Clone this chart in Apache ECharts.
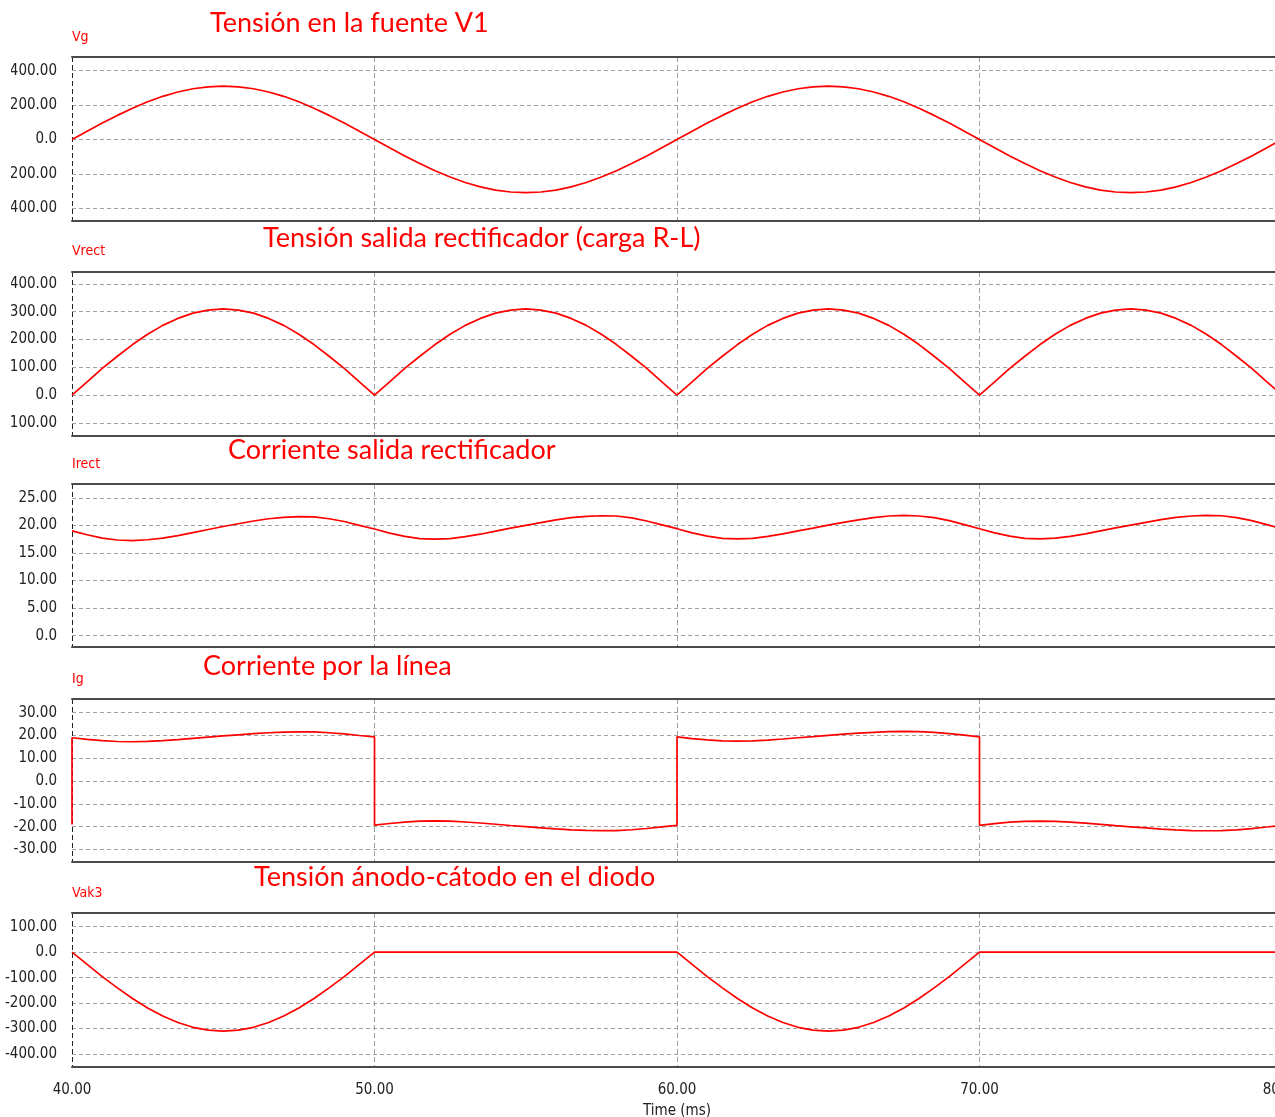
<!DOCTYPE html>
<html>
<head>
<meta charset="utf-8">
<title>Rectificador monofásico en puente</title>
<script src="https://cdn.jsdelivr.net/npm/echarts@6/dist/echarts.min.js"></script>
<style>
  html, body { margin: 0; padding: 0; background: #ffffff; }
  #chart { width: 1275px; height: 1117px; }
</style>
</head>
<body>
<div id="chart"></div>
<script>
// Time base of the simulation window (ms)
const timeMs = [
  40, 40.5, 41, 41.5, 42, 42.5, 43, 43.5, 44, 44.5, 45, 45.5, 46, 46.5, 47, 47.5, 48, 48.5, 49, 49.5,
  50, 50.5, 51, 51.5, 52, 52.5, 53, 53.5, 54, 54.5, 55, 55.5, 56, 56.5, 57, 57.5, 58, 58.5, 59, 59.5,
  60, 60.5, 61, 61.5, 62, 62.5, 63, 63.5, 64, 64.5, 65, 65.5, 66, 66.5, 67, 67.5, 68, 68.5, 69, 69.5,
  70, 70.5, 71, 71.5, 72, 72.5, 73, 73.5, 74, 74.5, 75, 75.5, 76, 76.5, 77, 77.5, 78, 78.5, 79, 79.5,
  80
];

// Source voltage V1 (V)
const vg = [
  0, 48, 96, 140, 182, 219, 251, 276, 295, 306, 310, 306, 295, 276, 251, 219, 182, 140, 96, 48,
  0, -48, -96, -140, -182, -219, -251, -276, -295, -306, -310, -306, -295, -276, -251, -219, -182, -140, -96, -48,
  0, 48, 96, 140, 182, 219, 251, 276, 295, 306, 310, 306, 295, 276, 251, 219, 182, 140, 96, 48,
  0, -48, -96, -140, -182, -219, -251, -276, -295, -306, -310, -306, -295, -276, -251, -219, -182, -140, -96, -48,
  0
];

// Rectifier output voltage (V)
const vrect = [
  0, 48, 96, 140, 182, 219, 251, 276, 295, 306, 310, 306, 295, 276, 251, 219, 182, 140, 96, 48,
  0, 48, 96, 140, 182, 219, 251, 276, 295, 306, 310, 306, 295, 276, 251, 219, 182, 140, 96, 48,
  0, 48, 96, 140, 182, 219, 251, 276, 295, 306, 310, 306, 295, 276, 251, 219, 182, 140, 96, 48,
  0, 48, 96, 140, 182, 219, 251, 276, 295, 306, 310, 306, 295, 276, 251, 219, 182, 140, 96, 48,
  0
];

// Rectifier output current, R-L load (A)
const irect = [
  19.0, 18.3, 17.7, 17.35, 17.25, 17.4, 17.7, 18.15, 18.7, 19.25, 19.8, 20.3, 20.8, 21.2, 21.45, 21.6, 21.55, 21.2, 20.7, 20.0,
  19.35, 18.6, 18.0, 17.6, 17.5, 17.6, 17.95, 18.4, 18.95, 19.5, 20.0, 20.5, 21.0, 21.4, 21.65, 21.75, 21.7, 21.35, 20.8, 20.1,
  19.4, 18.65, 18.05, 17.65, 17.55, 17.65, 18.0, 18.45, 19.0, 19.5, 20.05, 20.55, 21.0, 21.4, 21.7, 21.8, 21.7, 21.4, 20.85, 20.15,
  19.4, 18.65, 18.05, 17.65, 17.55, 17.7, 18.0, 18.45, 19.0, 19.55, 20.05, 20.55, 21.05, 21.45, 21.7, 21.8, 21.75, 21.4, 20.85, 20.15,
  19.4
];

// Line current: instants repeat where the bridge commutates
const igTime = [
  40, 40, 40.5, 41, 41.5, 42, 42.5, 43, 43.5, 44, 44.5, 45, 45.5, 46, 46.5, 47, 47.5, 48, 48.5, 49, 49.5,
  50, 50, 50.5, 51, 51.5, 52, 52.5, 53, 53.5, 54, 54.5, 55, 55.5, 56, 56.5, 57, 57.5, 58, 58.5, 59, 59.5,
  60, 60, 60.5, 61, 61.5, 62, 62.5, 63, 63.5, 64, 64.5, 65, 65.5, 66, 66.5, 67, 67.5, 68, 68.5, 69, 69.5,
  70, 70, 70.5, 71, 71.5, 72, 72.5, 73, 73.5, 74, 74.5, 75, 75.5, 76, 76.5, 77, 77.5, 78, 78.5, 79, 79.5,
  80
];
const ig = [
  -19.0, 19.0, 18.3, 17.7, 17.35, 17.25, 17.4, 17.7, 18.15, 18.7, 19.25, 19.8, 20.3, 20.8, 21.2, 21.45, 21.6, 21.55, 21.2, 20.7, 20.0,
  19.35, -19.35, -18.6, -18.0, -17.6, -17.5, -17.6, -17.95, -18.4, -18.95, -19.5, -20.0, -20.5, -21.0, -21.4, -21.65, -21.75, -21.7, -21.35, -20.8, -20.1,
  -19.4, 19.4, 18.65, 18.05, 17.65, 17.55, 17.65, 18.0, 18.45, 19.0, 19.5, 20.05, 20.55, 21.0, 21.4, 21.7, 21.8, 21.7, 21.4, 20.85, 20.15,
  19.4, -19.4, -18.65, -18.05, -17.65, -17.55, -17.7, -18.0, -18.45, -19.0, -19.55, -20.05, -20.55, -21.05, -21.45, -21.7, -21.8, -21.75, -21.4, -20.85, -20.15,
  -19.4
];

// Anode-cathode voltage of diode 3 (V)
const vak3 = [
  0, -48, -96, -140, -182, -219, -251, -276, -295, -306, -310, -306, -295, -276, -251, -219, -182, -140, -96, -48,
  0, 0, 0, 0, 0, 0, 0, 0, 0, 0, 0, 0, 0, 0, 0, 0, 0, 0, 0, 0,
  0, -48, -96, -140, -182, -219, -251, -276, -295, -306, -310, -306, -295, -276, -251, -219, -182, -140, -96, -48,
  0, 0, 0, 0, 0, 0, 0, 0, 0, 0, 0, 0, 0, 0, 0, 0, 0, 0, 0, 0,
  0
];

// Tick values of each panel
const timeTicks = [40, 50, 60, 70, 80];
const vgTicks = [400, 200, 0, -200, -400];
const vrectTicks = [400, 300, 200, 100, 0, -100];
const irectTicks = [25, 20, 15, 10, 5, 0];
const igTicks = [30, 20, 10, 0, -10, -20, -30];
const vakTicks = [100, 0, -100, -200, -300, -400];

const panelTitles = [
  'Tensión en la fuente V1',
  'Tensión salida rectificador (carga R-L)',
  'Corriente salida rectificador',
  'Corriente por la línea',
  'Tensión ánodo-cátodo en el diodo'
];
const traceNames = ['Vg', 'Vrect', 'Irect', 'Ig', 'Vak3'];

const RED = '#ff0000';
const AXIS_FONT = '"Liberation Sans Narrow", "DejaVu Sans Condensed", "Liberation Sans", sans-serif';
const TITLE_FONT = 'Lato, "Open Sans", sans-serif';

// Panel geometry (px); trimLeft: width of the blank margin over the label column
const panels = [
  { top: 57,  height: 164, min: -475, max: 480, ticks: vgTicks,    x: timeMs, y: vg,    titleX: 210, titleY: 23,  nameY: 37,  trimLeft: 11 },
  { top: 272, height: 164, min: -147, max: 443, ticks: vrectTicks, x: timeMs, y: vrect, titleX: 263, titleY: 238, nameY: 251, trimLeft: 11 },
  { top: 484, height: 163, min: -2.04, max: 27.5, ticks: irectTicks, x: timeMs, y: irect, titleX: 228, titleY: 450, nameY: 464, trimLeft: 0 },
  { top: 699, height: 163, min: -35.5, max: 36, ticks: igTicks,    x: igTime, y: ig,    titleX: 203, titleY: 666, nameY: 679, trimLeft: 0 },
  { top: 913, height: 154, min: -451, max: 154, ticks: vakTicks,  x: timeMs, y: vak3,  titleX: 254, titleY: 877, nameY: 893, trimLeft: 0 }
];

const fmtY = v => (v === 0 ? '0.0' : v.toFixed(2));

const grid = [], xAxis = [], yAxis = [], series = [], graphic = [];

panels.forEach((p, i) => {
  const last = i === panels.length - 1;
  grid.push({
    left: 72, width: 1210, top: p.top, height: p.height,
    containLabel: false, outerBoundsMode: 'none'
  });

  // bottom axis: frame line, vertical grid, time labels on the last panel
  xAxis.push({
    type: 'value', gridIndex: i, position: 'bottom',
    min: 40, max: 80, interval: 10,
    axisLine: { show: true, onZero: false, lineStyle: { color: '#4a4a4a', width: 2 } },
    axisTick: { show: false },
    splitLine: { show: true, lineStyle: { type: [5, 3], width: 1, color: ['#222222', '#a0a0a0', '#a0a0a0', '#a0a0a0', '#a0a0a0'] } },
    axisLabel: {
      show: last, margin: 16, color: '#222', fontFamily: AXIS_FONT, fontSize: 15,
      formatter: v => v.toFixed(2)
    },
    name: last ? 'Time (ms)' : '',
    nameLocation: 'middle', nameGap: 37,
    nameTextStyle: { color: '#222', fontFamily: AXIS_FONT, fontSize: 15 }
  });
  // top axis: upper frame line only
  xAxis.push({
    type: 'value', gridIndex: i, position: 'top',
    min: 40, max: 80, interval: 10,
    axisLine: { show: true, onZero: false, lineStyle: { color: '#4a4a4a', width: 2 } },
    axisTick: { show: false }, axisLabel: { show: false }, splitLine: { show: false }
  });

  yAxis.push({
    type: 'value', gridIndex: i, min: p.min, max: p.max,
    axisLine: { show: false },
    axisTick: { show: false, customValues: p.ticks },
    axisLabel: {
      customValues: p.ticks, margin: 15, color: '#222',
      fontFamily: AXIS_FONT, fontSize: 15, formatter: fmtY
    },
    splitLine: { show: true, lineStyle: { type: [4, 3], width: 1, color: '#a0a0a0' } }
  });

  series.push({
    type: 'line', xAxisIndex: i * 2, yAxisIndex: i,
    data: p.x.map((t, k) => [t, p.y[k]]),
    showSymbol: false, smooth: false,
    lineStyle: { color: RED, width: 1.7 },
    clip: true, silent: true
  });

  graphic.push({
    type: 'text', left: p.titleX, top: p.titleY - 13,
    style: { text: panelTitles[i], fill: RED, font: '27px ' + TITLE_FONT }
  });
  graphic.push({
    type: 'text', left: 72, top: p.nameY - 7,
    style: { text: traceNames[i], fill: RED, font: '14px ' + AXIS_FONT }
  });
  if (p.trimLeft > 0) {
    // page margin trims the start of the label column
    graphic.push({
      type: 'rect', left: 0, top: p.top, z: 100,
      shape: { width: p.trimLeft, height: p.height },
      style: { fill: '#ffffff' }
    });
  }
});

const chart = echarts.init(document.getElementById('chart'), null, { renderer: 'canvas' });
chart.setOption({
  animation: false,
  backgroundColor: '#ffffff',
  grid, xAxis, yAxis, series, graphic
});
</script>
</body>
</html>
